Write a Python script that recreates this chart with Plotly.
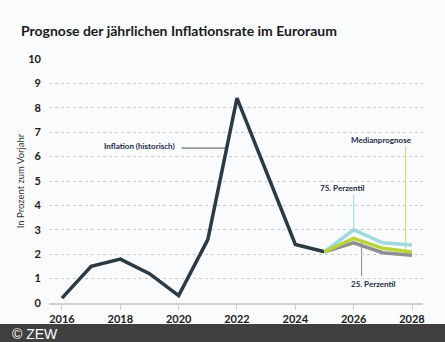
import plotly.graph_objects as go

years_hist = [2016, 2017, 2018, 2019, 2020, 2021, 2022, 2023, 2024, 2025]
inflation_hist = [0.2, 1.5, 1.8, 1.2, 0.3, 2.6, 8.4, 5.4, 2.4, 2.1]

years_fc = [2025, 2026, 2027, 2028]
p75 = [2.1, 3.0, 2.47, 2.38]
median = [2.1, 2.65, 2.24, 2.09]
p25 = [2.1, 2.47, 2.06, 1.96]

x_ticks = [2016, 2018, 2020, 2022, 2024, 2026, 2028]
y_ticks = list(range(0, 11))

title_text = "Prognose der jährlichen Inflationsrate im Euroraum"
y_title = "In Prozent zum Vorjahr"

C_HIST = "#2c3b43"
C_P75 = "#9dd9de"
C_MED = "#b7d336"
C_P25 = "#8e8e8e"
C_TXT = "#1f2a44"

FONT = "Lato, sans-serif"

fig = go.Figure()
fig.add_trace(go.Scatter(x=years_hist, y=inflation_hist, mode="lines",
                         line=dict(color=C_HIST, width=3.5), hoverinfo="skip"))
fig.add_trace(go.Scatter(x=years_fc, y=p25, mode="lines",
                         line=dict(color=C_P25, width=3.5), hoverinfo="skip"))
fig.add_trace(go.Scatter(x=years_fc, y=p75, mode="lines",
                         line=dict(color=C_P75, width=3.5), hoverinfo="skip"))
fig.add_trace(go.Scatter(x=years_fc, y=median, mode="lines",
                         line=dict(color=C_MED, width=3.5), hoverinfo="skip"))

# leader lines
fig.add_shape(type="line", x0=2020.1, x1=2021.66, y0=6.35, y1=6.35,
              line=dict(color="#6f6f6f", width=1.2), layer="below")
fig.add_shape(type="line", x0=2026, x1=2026, y0=4.45, y1=3.0,
              line=dict(color="#a9dfe3", width=1.2), layer="below")
fig.add_shape(type="line", x0=2027.78, x1=2027.78, y0=6.43, y1=2.09,
              line=dict(color="#cfe07a", width=1.2), layer="below")
fig.add_shape(type="line", x0=2026.27, x1=2026.27, y0=2.46, y1=1.1,
              line=dict(color="#999999", width=1.2), layer="below")

ann_font = dict(family=FONT, size=8, color=C_TXT, weight="bold")
fig.add_annotation(x=2019.93, y=6.45, text="Inflation (historisch)", showarrow=False,
                   xanchor="right", yanchor="middle", font=ann_font)
fig.add_annotation(x=2025.62, y=4.71, text="75. Perzentil", showarrow=False,
                   xanchor="center", yanchor="middle", font=ann_font)
fig.add_annotation(x=2026.97, y=6.68, text="Medianprognose", showarrow=False,
                   xanchor="center", yanchor="middle", font=ann_font)
fig.add_annotation(x=2026.68, y=0.78, text="25. Perzentil", showarrow=False,
                   xanchor="center", yanchor="middle", font=ann_font)

# title
fig.add_annotation(xref="paper", yref="paper", x=-0.08, y=1.0, yshift=29,
                   text="<b>" + title_text + "</b>", showarrow=False,
                   xanchor="left", yanchor="middle",
                   font=dict(family=FONT, size=14, color="#1a1a1a"))

# footer bar
fig.add_shape(type="rect", xref="paper", yref="paper", x0=-0.2, x1=1.2,
              y0=-0.0861, y1=-0.1636, line=dict(width=0), fillcolor="#404040", layer="above")
fig.add_annotation(xref="paper", yref="paper", x=-0.104, y=-0.126,
                   text="© ZEW", showarrow=False, xanchor="left", yanchor="middle",
                   font=dict(family="Liberation Sans, Arial, sans-serif", size=14, color="#ffffff"))

fig.update_layout(
    width=445, height=342,
    margin=dict(l=49, r=22, t=59, b=39),
    paper_bgcolor="#fafbfd",
    plot_bgcolor="#fafbfd",
    showlegend=False,
    xaxis=dict(range=[2015.555, 2028.377], tickvals=x_ticks, showgrid=False,
               showline=True, linecolor="#cfcfcf", linewidth=2,
               ticks="outside", ticklen=5, tickcolor="#cccccc", tickwidth=1,
               tickfont=dict(family=FONT, size=11, color="#1a1a1a", weight="bold"),
               zeroline=False, fixedrange=True),
    yaxis=dict(range=[0, 10], tickvals=y_ticks, showgrid=True,
               gridcolor="#c9c9c9", griddash="dot", gridwidth=1,
               zeroline=False, showline=False, ticks="",
               ticklabelstandoff=7,
               tickfont=dict(family=FONT, size=11, color="#1a1a1a", weight="bold"),
               title=dict(text=y_title, standoff=1,
                          font=dict(family=FONT, size=9.5, color="#333333")),
               fixedrange=True),
)

fig.write_html("out.html")
